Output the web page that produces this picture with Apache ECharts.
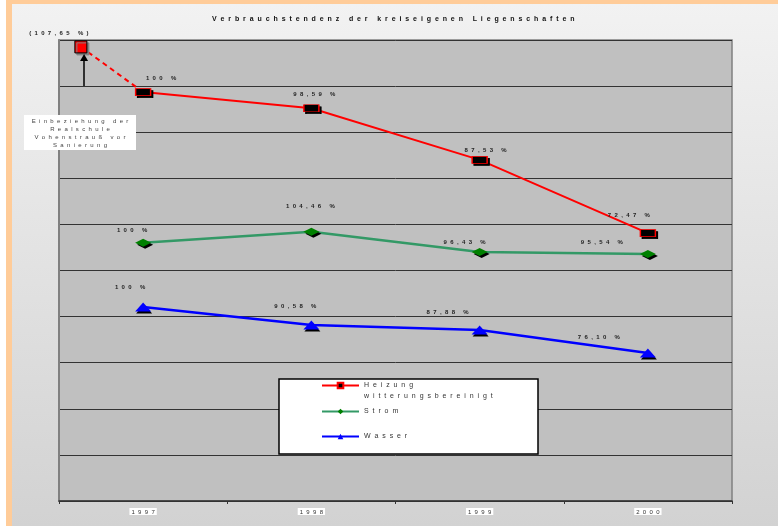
<!DOCTYPE html>
<html>
<head>
<meta charset="utf-8">
<script src="https://cdn.jsdelivr.net/npm/echarts@6/dist/echarts.min.js"></script>
<style>
html, body { margin: 0; padding: 0; background: #fff; }
#chart { width: 778px; height: 526px; }
</style>
</head>
<body>
<div id="chart"></div>
<script>
// Jahre
var years = ["1997", "1998", "1999", "2000"];

// Lage im Diagramm (Rasterlinien 0..10) und beschriftete Prozentwerte
var heizungLevel = [8.87, 8.52, 7.40, 5.81];
var heizungPct = ["100 %", "98,59 %", "87,53 %", "72,47 %"];
var stromLevel = [5.60, 5.84, 5.40, 5.36];
var stromPct = ["100 %", "104,46 %", "96,43 %", "95,54 %"];
var wasserLevel = [4.21, 3.82, 3.71, 3.21];
var wasserPct = ["100 %", "90,58 %", "87,88 %", "76,10 %"];

// Wert vor 1997 (mit Realschule Vohenstrauß)
var preX = 0.13;
var preLevel = 9.85;
var prePct = "(107,65 %)";

var FONT = "'Liberation Sans', Arial, sans-serif";

function spaced(s) {
	return s.split("").join("  ");
}

// Beschriftungsversatz je Punkt
var heizungOffsets = [[18, -14], [3, -14], [6, -10], [-19, -18]];
var stromOffsets = [[-11, -12], [-1, -25], [-15, -10], [-46, -12]];
var wasserOffsets = [[-13, -20], [-16, -19], [-32, -18], [-49, -16]];

function build(levels, pcts, offsets) {
	return levels.map(function (v, i) {
		return {
			value: [i + 0.5, v],
			label: { offset: offsets[i], formatter: spaced(pcts[i]) }
		};
	});
}

var pointLabel = {
	show: true,
	position: "inside",
	fontSize: 6,
	fontWeight: "bold",
	fontFamily: FONT,
	color: "#222"
};

var legendNames = {
	"Heizung": "\n" + spaced("Heizung") + "\n" + spaced("witterungsbereinigt"),
	"Strom": spaced("Strom"),
	"Wasser": spaced("Wasser")
};

var myChart = echarts.init(document.getElementById("chart"));
option = {
	animation: false,
	backgroundColor: "#fff",
	title: {
		text: spaced("Verbrauchstendenz der kreiseigenen Liegenschaften"),
		left: 212,
		top: 16,
		padding: 0,
		textStyle: {
			fontSize: 7,
			fontWeight: "bold",
			fontFamily: FONT,
			color: "#111",
			backgroundColor: "#fff",
			padding: [1, 2]
		}
	},
	grid: {
		left: 59,
		right: 46,
		top: 40,
		bottom: 25,
		show: true,
		backgroundColor: "#c0c0c0",
		borderColor: "#808080",
		borderWidth: 1.5
	},
	legend: {
		orient: "vertical",
		left: 321,
		top: 369,
		itemGap: 0,
		itemWidth: 37,
		itemHeight: 7,
		padding: 0,
		formatter: function (name) {
			return legendNames[name];
		},
		textStyle: { fontSize: 7, fontFamily: FONT, color: "#333", lineHeight: 11 },
		data: [
			{ name: "Heizung", textStyle: { lineHeight: 11 } },
			{ name: "Strom", textStyle: { lineHeight: 19 } },
			{ name: "Wasser", textStyle: { lineHeight: 31 } }
		]
	},
	xAxis: [
		{
			type: "category",
			data: years,
			boundaryGap: true,
			axisLine: { lineStyle: { color: "#333", width: 1.5 } },
			axisTick: { show: true, length: 3, lineStyle: { color: "#333" } },
			axisLabel: {
				formatter: function (y) { return spaced(y); },
				fontSize: 6,
				fontFamily: FONT,
				color: "#333",
				backgroundColor: "#fff",
				padding: [1, 2, 0, 2],
				margin: 7
			}
		},
		{
			type: "value",
			min: 0,
			max: 4,
			show: false
		}
	],
	yAxis: {
		type: "value",
		min: 0,
		max: 10,
		interval: 1,
		axisLabel: { show: false },
		axisTick: { show: false },
		axisLine: { show: true, lineStyle: { color: "#808080", width: 2 } },
		splitLine: { lineStyle: { color: "#333", width: 1 } }
	},
	graphic: [
		{
			type: "rect",
			z: -11,
			shape: { x: 6, y: 0, width: 772, height: 526 },
			style: { fill: "#ffcc99" }
		},
		{
			type: "rect",
			z: -10,
			shape: { x: 12, y: 4, width: 766, height: 522 },
			style: {
				fill: new echarts.graphic.LinearGradient(0, 0, 0, 1, [
					{ offset: 0, color: "#f2f2f2" },
					{ offset: 1, color: "#d2d2d2" }
				])
			}
		},
		{
			type: "rect",
			z: 3,
			shape: { x: 279, y: 379, width: 259, height: 75 },
			style: { fill: "#fff", stroke: "#000", lineWidth: 1.5 }
		},
		{
			type: "rect",
			z: 5,
			shape: { x: 24, y: 115, width: 112, height: 35 },
			style: { fill: "#fff" }
		},
		{
			type: "text",
			z: 6,
			x: 80,
			y: 117,
			style: {
				text: [
					spaced("Einbeziehung der"),
					spaced("Realschule"),
					spaced("Vohenstrauß vor"),
					spaced("Sanierung")
				].join("\n"),
				fill: "#444",
				font: "6px " + FONT,
				lineHeight: 8,
				align: "center",
				textAlign: "center",
				verticalAlign: "top",
				textVerticalAlign: "top"
			}
		}
	],
	series: [
		{
			name: "vorher",
			type: "line",
			xAxisIndex: 1,
			z: 3,
			data: [
				{
					value: [preX, preLevel],
					symbol: "rect",
					symbolSize: 12,
					itemStyle: {
						color: "#ff0000",
						borderColor: "#000",
						borderWidth: 1,
						shadowColor: "#808080",
						shadowOffsetX: 2,
						shadowOffsetY: 2
					},
					label: { show: true, offset: [-22, -14], formatter: spaced(prePct) }
				},
				{ value: [0.5, heizungLevel[0]], symbol: "none" }
			],
			lineStyle: { color: "#ff0000", width: 2, type: [5, 4] },
			label: pointLabel,
			markLine: {
				silent: true,
				symbol: ["none", "triangle"],
				symbolSize: [8, 7],
				lineStyle: { color: "#000", width: 1.5, type: "solid" },
				label: { show: false },
				data: [[{ coord: [0.149, 9] }, { coord: [0.149, 9.62] }]]
			}
		},
		{
			name: "Heizung",
			type: "line",
			xAxisIndex: 1,
			z: 4,
			data: build(heizungLevel, heizungPct, heizungOffsets),
			symbol: "rect",
			symbolSize: [15, 7],
			itemStyle: {
				color: "#000",
				borderColor: "#ff0000",
				borderWidth: 1,
				shadowColor: "#000",
				shadowOffsetX: 2,
				shadowOffsetY: 2
			},
			lineStyle: { color: "#ff0000", width: 2 },
			label: pointLabel
		},
		{
			name: "Strom",
			type: "line",
			xAxisIndex: 1,
			z: 4,
			data: build(stromLevel, stromPct, stromOffsets),
			symbol: "diamond",
			symbolSize: [16, 8],
			itemStyle: {
				color: "#008000",
				shadowColor: "#000",
				shadowOffsetX: 2,
				shadowOffsetY: 2
			},
			lineStyle: { color: "#339966", width: 2.5 },
			label: pointLabel
		},
		{
			name: "Wasser",
			type: "line",
			xAxisIndex: 1,
			z: 4,
			data: build(wasserLevel, wasserPct, wasserOffsets),
			symbol: "triangle",
			symbolSize: [16, 9],
			itemStyle: {
				color: "#0000ff",
				shadowColor: "#000",
				shadowOffsetX: 1,
				shadowOffsetY: 2
			},
			lineStyle: { color: "#0000ff", width: 2.5 },
			label: pointLabel
		}
	]
};
myChart.setOption(option);
window.addEventListener("resize", myChart.resize);
</script>
</body>
</html>
